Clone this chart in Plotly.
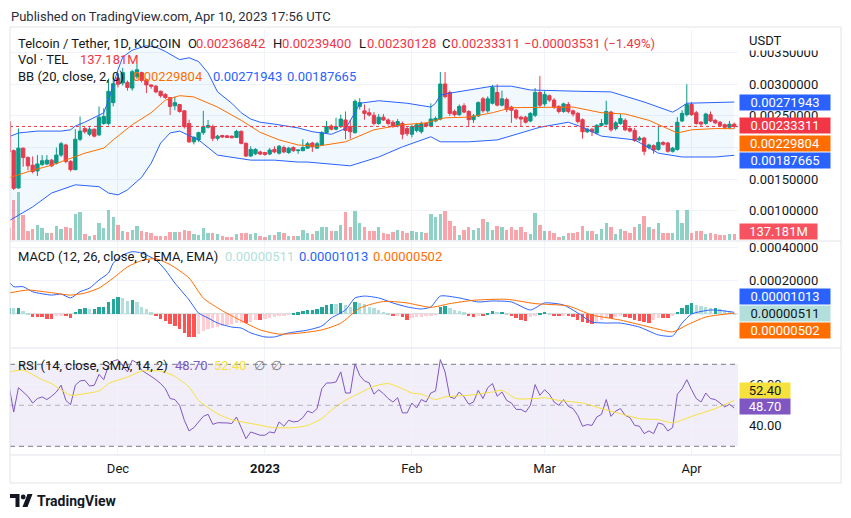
import pandas as pd
import plotly.graph_objects as go

# The page has the browser's default 8px body margin, so the figure is sized to fit the
# 851x518 window and all layout positions below are given in window pixels.
OFF = 8
FW, FH = 835, 500
FONT = "Roboto"
DARK = "#131722"
UP, DOWN = "#089981", "#F23645"
BLUE, ORANGE = "#2962FF", "#FF6D00"
PURPLE, YELLOW = "#7E57C2", "#F7E13D"
RED = "#F23645"


def px(x):
    return (x - OFF) / FW


def py(y):
    return 1 - (y - OFF) / FH


# ---------------- data ----------------
dates = pd.date_range("2022-11-08", periods=154, freq="D")   # daily candles Nov 8 .. Apr 10
base = pd.Timestamp("2022-11-09")


def day(i):
    return base + pd.Timedelta(days=i)


PRICE_UNIT = 1e-4   # OHLC and Bollinger values are listed in units of 0.0001 USDT

open_ = [24.1, 19.5, 13.6, 19.9, 18.4, 17.2, 16.3, 17.3, 17.4, 18.0,
         17.5, 18.8, 20.4, 17.8, 16.5, 21.3, 23.0, 22.1, 22.9, 22.0,
         23.8, 23.8, 27.1, 31.0, 30.2, 30.3, 29.4, 31.2, 31.85, 30.7,
         29.9, 29.7, 28.9, 28.4, 27.9, 26.6, 26.8, 25.8, 23.8, 20.9,
         21.2, 22.35, 23.2, 23.3, 21.45, 21.9, 21.85, 21.8, 21.6, 22.56,
         20.66, 18.65, 19.0, 19.3, 19.2, 18.97, 19.7, 19.1, 20.0, 19.2,
         20.0, 19.5, 19.5, 19.9, 20.7, 19.9, 20.4, 22.35, 23.4, 22.9,
         23.3, 24.35, 23.3, 22.35, 26.5, 25.8, 25.5, 25.1, 23.8, 24.8,
         24.35, 24.0, 23.4, 23.8, 23.0, 22.1, 22.7, 22.5, 23.8, 23.4,
         24.2, 24.5, 30.05, 28.7, 25.7, 25.2, 26.6, 25.7, 24.4, 25.0,
         27.7, 25.8, 27.0, 28.7, 26.7, 27.6, 26.4, 25.9, 24.8, 24.8,
         24.2, 25.1, 28.7, 26.9, 28.2, 27.5, 26.5, 25.7, 26.8, 25.8,
         25.4, 24.4, 22.5, 22.9, 22.3, 23.5, 23.7, 25.6, 23.0, 23.8,
         24.3, 23.0, 22.7, 21.2, 21.5, 20.0, 20.3, 19.7, 20.8, 20.7,
         19.4, 19.7, 24.2, 25.2, 26.8, 25.5, 24.0, 23.8, 25.2, 24.3,
         24.0, 23.6, 23.2, 23.6842]
high_ = [24.3, 19.7, 23.0, 20.0, 18.6, 18.6, 18.8, 18.8, 18.8, 18.2,
         20.0, 20.9, 20.6, 18.0, 22.9, 24.9, 23.3, 23.2, 23.0, 26.5,
         26.2, 30.9, 31.2, 31.7, 32.6, 30.6, 32.3, 33.2, 32.0, 30.9,
         30.0, 29.9, 29.0, 28.6, 28.0, 28.05, 26.9, 25.9, 24.4, 21.8,
         22.5, 25.8, 24.35, 23.6, 22.0, 22.0, 21.95, 21.9, 22.8, 22.7,
         20.8, 20.2, 19.9, 19.5, 19.3, 19.9, 20.2, 20.4, 20.3, 20.1,
         20.2, 19.65, 21.3, 20.9, 20.9, 20.9, 22.6, 24.2, 23.7, 24.7,
         25.2, 25.7, 24.4, 27.6, 27.8, 26.8, 26.2, 25.6, 25.3, 25.3,
         24.6, 24.3, 24.5, 24.1, 23.4, 23.6, 23.9, 24.1, 24.0, 26.99,
         24.9, 31.95, 31.95, 29.0, 26.0, 26.8, 27.0, 25.9, 25.3, 27.3,
         28.0, 28.1, 29.9, 30.0, 29.0, 27.9, 26.6, 26.1, 25.0, 25.0,
         25.6, 29.4, 31.3, 28.9, 28.4, 27.8, 26.7, 27.1, 27.2, 26.0,
         25.6, 24.6, 23.1, 23.1, 23.7, 24.5, 27.4, 25.8, 24.2, 25.3,
         24.6, 23.2, 23.1, 21.8, 21.7, 20.6, 20.5, 23.5, 21.0, 20.9,
         20.1, 24.8, 25.9, 30.0, 27.2, 25.8, 24.2, 25.5, 25.7, 24.5,
         24.2, 23.8, 24.2, 23.94]
low_ = [19.2, 13.27, 13.5, 16.97, 16.4, 15.9, 15.5, 17.1, 17.2, 16.9,
        17.3, 18.5, 17.5, 16.2, 16.4, 21.0, 22.2, 21.8, 21.6, 21.8,
        23.6, 23.5, 26.5, 29.5, 29.8, 29.0, 29.0, 30.8, 30.3, 28.6,
        29.3, 28.6, 27.9, 27.7, 25.15, 25.9, 25.5, 23.0, 20.7, 20.5,
        20.9, 22.0, 23.0, 21.0, 21.1, 21.5, 21.5, 21.45, 21.5, 20.5,
        18.5, 18.5, 18.8, 18.8, 18.7, 18.8, 19.1, 18.9, 19.1, 19.0,
        19.3, 19.0, 19.4, 19.8, 19.3, 19.8, 20.3, 22.2, 22.7, 22.7,
        23.1, 21.3, 21.4, 22.2, 26.0, 24.4, 24.9, 23.5, 23.6, 24.2,
        23.5, 23.1, 23.2, 21.3, 21.8, 21.6, 22.4, 22.2, 23.2, 23.2,
        24.0, 24.3, 27.8, 25.0, 24.9, 25.0, 25.4, 23.3, 23.9, 24.8,
        25.5, 25.5, 26.8, 26.5, 26.5, 25.6, 23.9, 24.4, 23.3, 23.8,
        24.0, 24.8, 26.4, 26.5, 27.2, 26.1, 25.4, 25.5, 25.4, 24.9,
        23.8, 21.4, 22.3, 21.8, 22.1, 23.3, 23.5, 22.5, 22.7, 23.6,
        22.6, 22.4, 20.9, 21.0, 18.8, 19.7, 19.0, 19.5, 20.3, 19.2,
        19.2, 19.5, 24.0, 24.9, 25.0, 23.6, 23.4, 23.6, 24.0, 23.7,
        23.3, 22.9, 22.9, 23.0128]
close_ = [19.3, 13.54, 19.9, 18.4, 17.1, 16.2, 17.4, 17.9, 18.0, 17.1,
          18.8, 20.6, 17.8, 16.5, 21.3, 22.6, 22.5, 22.9, 21.8, 24.8,
          24.9, 28.9, 30.1, 30.0, 31.85, 29.5, 32.0, 32.3, 30.6, 29.9,
          29.7, 28.8, 28.2, 27.9, 26.5, 27.1, 25.7, 23.3, 20.9, 21.6,
          22.35, 23.3, 23.5, 21.45, 21.8, 21.66, 21.6, 21.55, 22.56, 20.66,
          18.65, 19.7, 19.7, 18.97, 18.9, 19.6, 19.3, 20.2, 19.3, 19.9,
          19.5, 19.6, 20.0, 20.6, 20.1, 20.6, 22.35, 23.3, 22.9, 23.3,
          24.5, 22.7, 22.5, 27.3, 27.1, 25.4, 25.15, 23.8, 24.8, 24.35,
          23.8, 23.4, 24.1, 22.1, 22.2, 23.3, 23.6, 23.8, 23.4, 24.5,
          24.6, 30.05, 28.05, 25.4, 25.2, 26.5, 25.6, 24.4, 25.0, 27.1,
          25.8, 27.7, 29.5, 26.7, 27.7, 26.0, 25.9, 24.7, 24.5, 24.0,
          25.4, 28.7, 26.7, 28.4, 27.5, 26.4, 25.7, 26.9, 25.7, 25.3,
          24.1, 22.5, 22.9, 22.5, 23.5, 23.8, 25.7, 22.8, 23.9, 24.6,
          22.8, 22.6, 21.1, 21.5, 19.4, 20.4, 19.6, 20.8, 20.5, 19.4,
          19.9, 24.0, 25.4, 26.8, 25.2, 23.8, 23.7, 25.3, 24.2, 23.9,
          23.5, 23.2, 23.68, 23.3311]

volume_m = [300, 968, 1154, 605, 226, 258, 363, 282, 178, 161,
            339, 258, 323, 282, 629, 686, 145, 105, 121, 403,
            282, 726, 565, 363, 226, 202, 242, 339, 226, 202,
            178, 97, 97, 97, 202, 202, 202, 242, 226, 145,
            121, 282, 161, 161, 145, 97, 65, 65, 145, 161,
            161, 145, 161, 97, 81, 121, 121, 186, 161, 105,
            105, 97, 242, 161, 145, 210, 307, 307, 218, 218,
            363, 670, 323, 702, 403, 323, 226, 218, 323, 178,
            137, 202, 242, 226, 161, 226, 186, 202, 161, 629,
            565, 629, 702, 460, 339, 121, 242, 323, 242, 299,
            500, 428, 242, 339, 323, 242, 307, 242, 323, 202,
            145, 646, 363, 218, 218, 178, 81, 97, 178, 178,
            202, 339, 218, 218, 145, 258, 420, 323, 145, 258,
            210, 178, 323, 387, 581, 323, 258, 420, 178, 178,
            178, 726, 403, 726, 178, 210, 218, 145, 169, 145,
            121, 121, 153, 137.181]

# Bollinger Bands (20, 2) read at sample days (offset from Nov 9)
bb_up_i = [-1, 1, 5, 10, 12, 13, 15, 17, 19, 20, 21, 22, 23, 25, 28, 30, 32, 34, 35, 37,
           39, 41, 43, 46, 48, 50, 52, 55, 60, 63, 67, 70, 72, 73, 77, 83, 88, 89, 90, 92,
           101, 105, 109, 119, 126, 133, 139, 140, 142, 152]
bb_up_v = [21.7, 22.3, 22.6, 22.6, 22.8, 23.4, 24.0, 24.7, 25.5, 27.5, 29.9, 32.3, 34.3, 35.4, 36.1,
           35.9, 35.2, 34.4, 33.9, 34.2, 33.6, 31.8, 28.8, 27.0, 25.5, 24.5, 24.0, 23.7, 23.1, 22.5,
           22.1, 23.0, 25.5, 27.0, 27.4, 27.0, 26.4, 27.0, 28.3, 28.6, 29.7, 29.7, 29.1, 28.9, 28.8,
           27.2, 25.6, 26.0, 27.0, 27.1943]
bb_mid_i = [-1, 4, 8, 11, 15, 19, 21, 25, 29, 32, 35, 38, 43, 48, 52, 56, 60, 64, 70, 76,
            82, 87, 91, 96, 101, 105, 112, 118, 124, 129, 134, 140, 143, 148, 152]
bb_mid_v = [15.2, 16.4, 17.2, 18.0, 19.1, 19.9, 21.2, 23.6, 25.5, 27.5, 28.2, 28.0, 26.4, 24.3, 22.4,
            21.2, 20.4, 20.2, 20.9, 22.8, 23.6, 23.9, 24.7, 24.8, 25.5, 26.3, 26.4, 26.4, 25.5, 25.3,
            24.3, 22.3, 22.8, 23.0, 22.9804]
bb_lo_i = [-1, 4, 8, 13, 18, 20, 22, 24, 27, 29, 31, 33, 35, 39, 43, 46, 50, 55, 60, 62,
           71, 77, 82, 88, 90, 96, 102, 111, 117, 120, 124, 131, 136, 141, 148, 152]
bb_lo_v = [8.4, 10.6, 12.8, 14.1, 13.8, 12.8, 12.5, 13.3, 15.3, 17.5, 20.7, 22.3, 22.6, 21.2, 18.8,
           18.5, 18.0, 18.0, 17.7, 17.7, 17.1, 18.5, 20.1, 21.7, 20.9, 20.9, 21.2, 23.2, 24.0, 23.2,
           21.8, 21.2, 19.1, 18.5, 18.5, 18.7665]

# MACD (12, 26, 9) in units of 1e-6 USDT
MACD_UNIT = 1e-6
macd_hist = [36, 34, 34, 20, 4, -20, -20, -20, -28, -28,
             -12, -6, -12, -22, 14, 28, 34, 30, 30, 40,
             44, 74, 90, 100, 94, 78, 84, 74, 44, 30,
             10, -12, -30, -42, -62, -72, -92, -112, -136, -140,
             -120, -100, -92, -86, -80, -72, -66, -60, -56, -52,
             -56, -46, -36, -36, -30, -26, -20, -12, -8, -1,
             8, 10, 16, 24, 24, 30, 40, 54, 60, 58,
             64, 54, 44, 70, 64, 60, 44, 34, 24, 14,
             4, -12, -10, -20, -34, -26, -20, -16, -14, -6,
             -2, 44, 50, 34, 24, 20, 10, -6, -16, -6,
             -12, 8, 20, 14, 14, 1, -12, -26, -36, -40,
             -20, -6, 8, 14, 4, -6, -12, -6, -12, -20,
             -36, -46, -56, -60, -46, -36, -16, -26, -20, -12,
             -20, -26, -36, -40, -46, -52, -36, -26, -26, -26,
             -12, 14, 34, 54, 64, 54, 48, 44, 34, 34,
             28, 24, 20, 5.11]
macd_i = [-1, 0, 2, 4, 8, 10, 12, 14, 16, 18, 20, 21, 23, 25, 27, 30, 32, 34, 37, 39,
          41, 43, 46, 48, 50, 53, 55, 58, 62, 65, 67, 70, 72, 74, 77, 80, 83, 86, 88, 90,
          94, 98, 101, 105, 109, 112, 116, 119, 122, 125, 128, 132, 136, 139, 141, 143, 147, 150, 152]
macd_v = [193, 163, 163, 133, 113, 119, 96, 133, 155, 203, 245, 304, 352, 372, 364, 322, 263, 185, 84, 6,
          -24, -54, -78, -84, -113, -137, -137, -113, -96, -72, -24, 24, 96, 107, 96, 66, 42, 30, 42, 107,
          96, 72, 78, 72, 24, 66, 54, 6, -48, -54, -54, -78, -125, -131, -54, 0, 24, 18, 10.13]
signal_i = [-1, 3, 8, 12, 15, 18, 21, 24, 27, 30, 33, 37, 40, 44, 48, 52, 56, 60, 65, 69,
            73, 77, 79, 83, 88, 92, 97, 104, 110, 117, 122, 128, 135, 139, 142, 146, 152]
signal_v = [125, 143, 127, 113, 125, 155, 215, 281, 320, 330, 295, 215, 95, 20, -40, -95, -120, -115, -95, -55,
            35, 70, 76, 66, 40, 62, 82, 88, 62, 48, -6, -36, -84, -107, -66, -18, 5.02]

# RSI (14) and its SMA (14)
rsi = [59.8, 46.7, 58.6, 56.5, 54.4, 51.1, 53.3, 54.1, 52.8, 54.4,
       56.5, 59.8, 52.4, 50.3, 59.8, 61.9, 62.2, 59.4, 59.8, 65.1,
       62.5, 69.5, 71.6, 72.3, 69.5, 66.3, 72.0, 70.7, 67.1, 65.4,
       64.1, 62.5, 60.6, 58.1, 53.3, 52.8, 50.0, 42.7, 37.5, 39.1,
       41.9, 44.6, 45.6, 40.7, 41.5, 41.5, 41.4, 41.1, 44.3, 39.1,
       33.7, 37.0, 36.2, 35.4, 35.4, 37.0, 36.5, 41.9, 39.8, 42.7,
       41.9, 42.2, 44.0, 47.2, 46.3, 48.4, 58.1, 60.9, 60.9, 61.4,
       66.3, 56.0, 56.0, 70.3, 64.6, 61.9, 60.9, 55.4, 57.6, 55.7,
       53.3, 51.6, 53.7, 46.3, 46.3, 51.1, 48.7, 52.8, 51.6, 56.0,
       57.0, 72.3, 66.3, 54.1, 53.3, 56.5, 54.1, 50.5, 51.6, 57.3,
       53.3, 58.6, 60.6, 54.4, 56.5, 52.4, 51.1, 48.0, 48.0, 46.7,
       50.0, 60.1, 54.9, 57.6, 55.4, 51.6, 50.0, 52.8, 49.5, 48.4,
       45.1, 39.8, 40.6, 40.2, 44.3, 45.6, 52.8, 44.6, 47.2, 48.4,
       45.1, 44.0, 40.2, 39.8, 36.2, 37.5, 36.2, 41.4, 40.7, 37.5,
       39.1, 55.4, 58.1, 62.5, 57.6, 53.3, 51.6, 56.0, 53.3, 52.8,
       51.1, 49.2, 50.5, 48.70]
rsima_i = [-1, 2, 6, 8, 12, 15, 18, 20, 24, 27, 31, 34, 37, 39, 43, 46, 51, 55, 59, 62,
           65, 67, 70, 73, 76, 79, 82, 84, 86, 89, 91, 96, 101, 103, 106, 110, 112, 115, 120, 124,
           128, 132, 136, 139, 143, 148, 152]
rsima_v = [66.3, 67.1, 62.5, 60.6, 54.9, 55.7, 57.0, 60.6, 63.8, 66.7, 66.7, 64.1, 58.9, 52.4, 45.9,
           43.0, 40.7, 39.1, 39.1, 40.2, 43.5, 47.6, 52.4, 56.0, 59.3, 60.6, 58.1, 56.0, 55.4, 52.8,
           54.1, 54.9, 56.5, 57.3, 53.3, 53.3, 53.7, 52.4, 51.1, 48.4, 45.9, 43.5, 43.0, 41.4, 44.6,
           48.4, 52.4]

month_ticks = ["2022-12-01", "2023-01-01", "2023-02-01", "2023-03-01", "2023-04-01"]
month_text = ["Dec", "<b>2023</b>", "Feb", "Mar", "Apr"]
price_ticks = [0.001, 0.0015, 0.002, 0.0025, 0.003, 0.0035]
price_tick_text = ["0.00100000", "0.00150000", "", "0.00250000", "0.00300000", "0.00350000"]
macd_ticks = [0.0004, 0.0002, 0.0]
macd_tick_text = ["0.00040000", "0.00020000", ""]
rsi_ticks = [40, 60]
rsi_tick_text = ["40.00", "60.00"]

last_close = close_[-1] * PRICE_UNIT

# ---------------- figure ----------------
fig = go.Figure()
P = lambda vals: [v * PRICE_UNIT for v in vals]
M = lambda vals: [v * MACD_UNIT for v in vals]
D = lambda idx: [day(i) for i in idx]

vol_colors = ["rgba(8,153,129,0.45)" if c >= o else "rgba(242,54,69,0.45)" for o, c in zip(open_, close_)]
fig.add_trace(go.Bar(x=dates, y=volume_m, marker=dict(color=vol_colors, line=dict(width=0)),
                     width=0.72 * 86400000, xaxis="x", yaxis="y", hoverinfo="skip"))

fig.add_trace(go.Scatter(x=D(bb_up_i), y=P(bb_up_v), mode="lines", line=dict(color=BLUE, width=1),
                         xaxis="x", yaxis="y2", hoverinfo="skip"))
fig.add_trace(go.Scatter(x=D(bb_lo_i), y=P(bb_lo_v), mode="lines", line=dict(color=BLUE, width=1),
                         fill="tonexty", fillcolor="rgba(33,150,243,0.06)", xaxis="x", yaxis="y2", hoverinfo="skip"))
fig.add_trace(go.Scatter(x=D(bb_mid_i), y=P(bb_mid_v), mode="lines", line=dict(color=ORANGE, width=1),
                         xaxis="x", yaxis="y2", hoverinfo="skip"))

fig.add_trace(go.Candlestick(x=dates, open=P(open_), high=P(high_), low=P(low_), close=P(close_),
                             increasing=dict(line=dict(color=UP, width=1), fillcolor=UP),
                             decreasing=dict(line=dict(color=DOWN, width=1), fillcolor=DOWN),
                             whiskerwidth=0, xaxis="x", yaxis="y2", hoverinfo="skip"))

hist_colors = []
prev = macd_hist[0]
for v in macd_hist:
    if v >= 0:
        hist_colors.append("#26A69A" if v >= prev else "#B2DFDB")
    else:
        hist_colors.append("#FFCDD2" if v > prev else "#FF5252")
    prev = v
fig.add_trace(go.Bar(x=dates, y=M(macd_hist), marker=dict(color=hist_colors, line=dict(width=0)),
                     width=0.72 * 86400000, xaxis="x", yaxis="y3", hoverinfo="skip"))
fig.add_trace(go.Scatter(x=D(macd_i), y=M(macd_v), mode="lines",
                         line=dict(color=BLUE, width=1, shape="spline", smoothing=0.6),
                         xaxis="x", yaxis="y3", hoverinfo="skip"))
fig.add_trace(go.Scatter(x=D(signal_i), y=M(signal_v), mode="lines",
                         line=dict(color=ORANGE, width=1, shape="spline", smoothing=0.6),
                         xaxis="x", yaxis="y3", hoverinfo="skip"))

fig.add_trace(go.Scatter(x=dates, y=rsi, mode="lines", line=dict(color=PURPLE, width=1),
                         xaxis="x", yaxis="y4", hoverinfo="skip"))
fig.add_trace(go.Scatter(x=D(rsima_i), y=rsima_v, mode="lines",
                         line=dict(color=YELLOW, width=1, shape="spline", smoothing=0.6),
                         xaxis="x", yaxis="y4", hoverinfo="skip"))

GRID = "#F0F3FA"
x0p, x1p = px(10), px(738)
axis_common = dict(side="right", anchor="x", showgrid=True, gridcolor=GRID, zeroline=False,
                   showline=False, ticks="", ticklabelstandoff=10,
                   tickfont=dict(size=13, color=DARK), fixedrange=True)

fig.update_layout(
    width=FW, height=FH, autosize=False,
    margin=dict(l=0, r=0, t=0, b=0),
    paper_bgcolor="white", plot_bgcolor="white",
    showlegend=False, hovermode=False,
    font=dict(family=FONT, color=DARK, size=13),
    bargap=0, boxgap=0.3, boxgroupgap=0.0,
    xaxis=dict(type="date", domain=[x0p, x1p], anchor="y4",
               range=["2022-11-08 05:17", "2023-04-10 19:12"],
               tickvals=month_ticks, ticktext=month_text, showgrid=True, gridcolor=GRID,
               zeroline=False, showline=False, ticks="", ticklabelstandoff=4,
               tickfont=dict(size=13, color=DARK), rangeslider=dict(visible=False), fixedrange=True),
    yaxis=dict(domain=[py(241), py(30)], range=[-24.2, 5082], visible=False, fixedrange=True),
    yaxis2=dict(overlaying="y", range=[0.000521, 0.003859],
                tickvals=price_ticks, ticktext=price_tick_text, **axis_common),
    yaxis3=dict(domain=[py(348), py(241)], range=[-0.000203, 0.000436],
                tickvals=macd_ticks, ticktext=macd_tick_text, **axis_common),
    yaxis4=dict(domain=[py(455), py(348)], range=[25.76, 77.95],
                tickvals=rsi_ticks, ticktext=rsi_tick_text, **axis_common),
)

shapes = []
shapes.append(dict(type="rect", xref="paper", yref="y4", x0=x0p, x1=x1p, y0=30, y1=70,
                   fillcolor="rgba(126,87,194,0.1)", line=dict(width=0), layer="below"))
for lvl, col in [(70, "#787B86"), (50, "rgba(120,123,134,0.5)"), (30, "#787B86")]:
    shapes.append(dict(type="line", xref="paper", yref="y4", x0=x0p, x1=x1p, y0=lvl, y1=lvl,
                       line=dict(color=col, width=1, dash="5px,4px")))
shapes.append(dict(type="line", xref="paper", yref="y3", x0=x0p, x1=x1p, y0=0, y1=0,
                   line=dict(color="rgba(120,123,134,0.5)", width=1), layer="below"))
shapes.append(dict(type="line", xref="paper", yref="y2", x0=x0p, x1=x1p, y0=last_close, y1=last_close,
                   line=dict(color=DOWN, width=1, dash="dot")))
BORDER = "#E0E3EB"
shapes.append(dict(type="rect", xref="paper", yref="paper", x0=px(10), x1=px(841), y0=py(483), y1=py(27),
                   line=dict(color=BORDER, width=1), fillcolor="rgba(0,0,0,0)"))
for yy in (241, 348, 455):
    shapes.append(dict(type="line", xref="paper", yref="paper", x0=px(10), x1=px(841), y0=py(yy), y1=py(yy),
                       line=dict(color=BORDER, width=1)))


def ppath(points):
    return "M " + " L ".join(f"{px(x)},{py(y)}" for x, y in points) + " Z"


shapes.append(dict(type="path", xref="paper", yref="paper",
                   path=ppath([(10, 494), (19.5, 494), (19.5, 507), (15.5, 507), (15.5, 498), (10, 498)]),
                   fillcolor=DARK, line=dict(width=0)))
shapes.append(dict(type="circle", xref="paper", yref="paper", x0=px(20.8), x1=px(25.6), y0=py(499.4), y1=py(494.6),
                   fillcolor=DARK, line=dict(width=0)))
shapes.append(dict(type="path", xref="paper", yref="paper",
                   path=ppath([(27.5, 494), (32.5, 494), (27.5, 507), (22.5, 507)]),
                   fillcolor=DARK, line=dict(width=0)))
fig.update_layout(shapes=shapes)


def txt(s, x, y, color=DARK, size=13):
    fig.add_annotation(text=s, x=px(x), y=py(y), xref="paper", yref="paper", xanchor="left",
                       yanchor="middle", showarrow=False, font=dict(color=color, size=size, family=FONT))


def tag(s, y, bg, fg="white", w=90):
    fig.add_annotation(text=s, x=px(739), y=py(y), xref="paper", yref="paper", xanchor="left",
                       yanchor="middle", showarrow=False, bgcolor=bg, width=w, height=15,
                       borderpad=0, align="center", font=dict(color=fg, size=13, family=FONT))


txt("Published on TradingView.com, Apr 10, 2023 17:56 UTC", 9, 16, "#2A2E39", 13)
txt("Telcoin / Tether, 1D, KUCOIN", 16, 43)
for lab, xl, val, xv in [("O", 186, "0.00236842", 194), ("H", 271, "0.00239400", 280),
                         ("L", 357, "0.00230128", 365), ("C", 440, "0.00233311", 449)]:
    txt(lab, xl, 43)
    txt(val, xv, 43, RED)
txt("−0.00003531 (−1.49%)", 522, 43, RED)
txt("Vol · TEL", 16, 59.5)
txt("137.181M", 78, 59.5, RED)
txt("BB (20, close, 2, 0)", 16, 76)
txt("0.00229804", 131, 76, ORANGE)
txt("0.00271943", 211, 76, BLUE)
txt("0.00187665", 285, 76, BLUE)
txt("MACD (12, 26, close, 9, EMA, EMA)", 16, 256.5)
txt("0.00000511", 223, 256.5, "#B2DFDB")
txt("0.00001013", 297, 256.5, BLUE)
txt("0.00000502", 371, 256.5, ORANGE)
txt("RSI (14, close, SMA, 14, 2)", 16, 365)
txt("48.70", 173, 365, PURPLE)
txt("52.40", 212, 365, YELLOW)
txt("∅  ∅", 252, 365, "#787B86")
txt("<b>TradingView</b>", 35, 500.5, DARK, 14)

# "USDT" header of the price scale, on a white box that hides the top of the 0.0035 label
fig.add_annotation(text="USDT", x=px(748), y=py(40.5), xref="paper", yref="paper", xanchor="left",
                   yanchor="middle", showarrow=False, bgcolor="white", width=90, height=19,
                   borderpad=0, align="left", font=dict(color=DARK, size=13, family=FONT))

tag("0.00271943", 102.5, BLUE)
tag("0.00233311", 125.5, RED)
tag("0.00229804", 143.5, ORANGE)
tag("0.00187665", 160, BLUE)
tag("137.181M", 231.5, "#F7525F", w=77)
tag("0.00001013", 296, BLUE)
tag("0.00000511", 313.5, "#B2DFDB", DARK)
tag("0.00000502", 330.5, ORANGE)
tag("52.40", 390, YELLOW, DARK, w=50)
tag("48.70", 406.5, PURPLE, w=50)

fig.write_html("out.html")
